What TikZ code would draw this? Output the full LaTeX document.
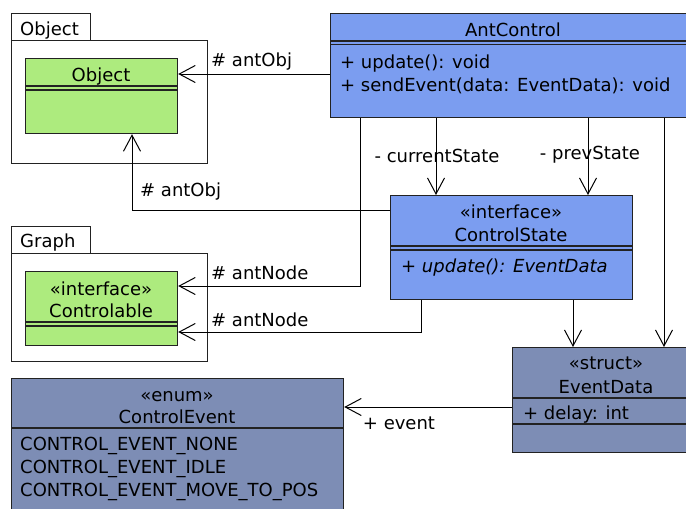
\documentclass[tikz,border=0pt]{standalone}
\usepackage{fontspec}
\setmainfont{DejaVu Sans}
\usetikzlibrary{arrows.meta}
\definecolor{objgreen}{HTML}{ADEB7E}
\definecolor{ctlblue}{HTML}{7B9DF0}
\definecolor{dataslate}{HTML}{7D8DB5}
\definecolor{edge}{HTML}{222222}
\tikzset{
  umlbox/.style={draw=edge, line width=1.2pt, inner sep=0pt, anchor=north west},
  pkgbox/.style={draw=edge, line width=1.2pt, fill=white, inner sep=0pt, anchor=north west},
  txt/.style={font=\fontsize{18}{23}\selectfont, inner sep=0pt, anchor=base},
  txtl/.style={txt, anchor=base west},
  sep/.style={draw=edge, line width=1.2pt},
  assoc/.style={draw=black, line width=1pt, -{Straight Barb[length=16pt,width=17pt]}},
}
\begin{document}
\begin{tikzpicture}[x=1pt,y=-1pt]
\useasboundingbox (0,0) rectangle (686,509);
\clip (0,0) rectangle (686,509);

% package Object
\node[pkgbox, minimum width=79pt, minimum height=27pt] (objtab) at (11,13) {};
\node[pkgbox, minimum width=196pt, minimum height=123pt] (objpkg) at (11,40) {};
\node[txtl] at (20,35.5) {Object};

% package Graph
\node[pkgbox, minimum width=79pt, minimum height=27pt] (graphtab) at (11,226) {};
\node[pkgbox, minimum width=196pt, minimum height=108pt] (graphpkg) at (11,253) {};
\node[txtl] at (20,247.5) {Graph};

% class Object
\node[umlbox, fill=objgreen, minimum width=152pt, minimum height=75pt] (obj) at (25,58) {};
\node[txt] at (101,81.5) {Object};
\draw[sep] (25,86) -- (177,86) (25,90) -- (177,90);

% interface Controlable
\node[umlbox, fill=objgreen, minimum width=152pt, minimum height=74pt] (ctl) at (25,271) {};
\node[txt] at (101,295.5) {«interface»};
\node[txt] at (101,317.5) {Controlable};
\draw[sep] (25,322) -- (177,322) (25,326) -- (177,326);

% class AntControl
\node[umlbox, fill=ctlblue, minimum width=366pt, minimum height=104pt] (ac) at (330,13) {};
\node[txt] at (513,36.5) {AntControl};
\draw[sep] (330,41) -- (696,41) (330,44.5) -- (696,44.5);
\node[txtl] at (340,68.5) {+ update(): void};
\node[txtl] at (340,91.5) {+ sendEvent(data: EventData): void};

% interface ControlState
\node[umlbox, fill=ctlblue, minimum width=242pt, minimum height=104pt] (cs) at (390,195) {};
\node[txt] at (511,218.5) {«interface»};
\node[txt] at (511,241.5) {ControlState};
\draw[sep] (390,246) -- (632,246) (390,250) -- (632,250);
\node[txtl] at (401,272.5) {\itshape + update(): EventData};

% struct EventData
\node[umlbox, fill=dataslate, minimum width=188pt, minimum height=105pt] (ed) at (512,347) {};
\node[txt] at (606,369.5) {«struct»};
\node[txt] at (606,393.5) {EventData};
\draw[sep] (512,398) -- (700,398) (512,424) -- (700,424);
\node[txtl] at (523,419.5) {+ delay: int};

% enum ControlEvent
\node[umlbox, fill=dataslate, minimum width=332pt, minimum height=150pt] (ce) at (11,378) {};
\node[txt] at (177,401.5) {«enum»};
\node[txt] at (177,423.5) {ControlEvent};
\draw[sep] (11,428) -- (343,428);
\node[txtl] at (20,450.5) {CONTROL\_EVENT\_NONE};
\node[txtl] at (20,473.5) {CONTROL\_EVENT\_IDLE};
\node[txtl] at (20,496.5) {CONTROL\_EVENT\_MOVE\_TO\_POS};

% associations
\draw[assoc] ([yshift=-61pt]ac.north west) -- ([yshift=-16pt]obj.north east);
\node[txtl] at (211,66.5) {\# antObj};

\draw[assoc] ([yshift=-15pt]cs.north west) -| ([xshift=107pt]obj.south west);
\node[txtl] at (140,196.5) {\# antObj};

\draw[assoc] ([xshift=30.5pt]ac.south west) |- ([yshift=-15pt]ctl.north east);
\node[txtl] at (211,279.5) {\# antNode};

\draw[assoc] ([xshift=31pt]cs.south west) |- ([yshift=-61pt]ctl.north east);
\node[txtl] at (211,326.5) {\# antNode};

\draw[assoc] ([xshift=106pt]ac.south west) -- ([xshift=46pt]cs.north west);
\node[txt] at (437,162.5) {- currentState};

\draw[assoc] ([xshift=258pt]ac.south west) -- ([xshift=198pt]cs.north west);
\node[txt] at (590,159.5) {- prevState};

\draw[assoc] ([xshift=334pt]ac.south west) -- ([xshift=152pt]ed.north west);

\draw[assoc] ([xshift=183pt]cs.south west) -- ([xshift=61pt]ed.north west);

\draw[assoc] ([yshift=-60pt]ed.north west) -- ([yshift=-29pt]ce.north east);
\node[txt] at (399,429.5) {+ event};
\end{tikzpicture}
\end{document}
